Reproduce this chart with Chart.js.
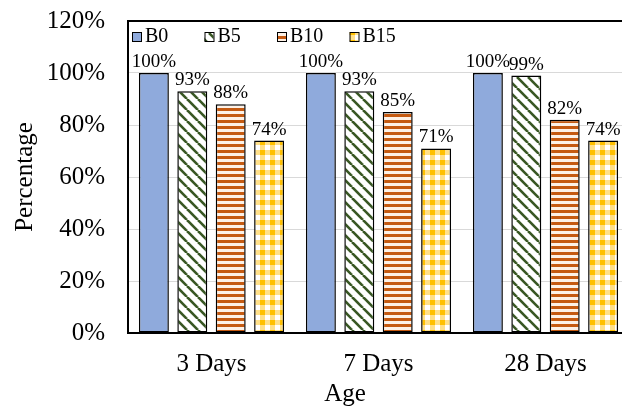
<!DOCTYPE html>
<html>
<head>
<meta charset="utf-8">
<script src="https://cdn.jsdelivr.net/npm/chart.js@4"></script>
<style>
  html, body { margin: 0; padding: 0; background: #fff; }
  #wrap { width: 622px; height: 407px; overflow: hidden; position: relative; }
  canvas { display: block; }
</style>
</head>
<body>
<div id="wrap"><canvas id="c" width="640" height="407"></canvas></div>
<script>
// Relative strength (%) by age for each mix
const categories = ['3 Days', '7 Days', '28 Days'];
const seriesNames = ['B0', 'B5', 'B10', 'B15'];
const B0 = [100, 100, 100];
const B5 = [93, 93, 99];
const B10 = [88, 85, 82];
const B15 = [74, 71, 74];
const yTicks = [0, 20, 40, 60, 80, 100, 120];
const xTitle = 'Age';

const SERIF = '"Liberation Serif", "Times New Roman", serif';

function makeTile(size, draw) {
  const c = document.createElement('canvas');
  c.width = size; c.height = size;
  const g = c.getContext('2d');
  draw(g, size);
  return document.createElement('canvas').getContext('2d').createPattern(c, 'repeat');
}

// diagonal green hatch
const hatchGreen = makeTile(11, (g, s) => {
  g.fillStyle = '#ffffff'; g.fillRect(0, 0, s, s);
  g.strokeStyle = '#385723'; g.lineWidth = 2.6;
  for (let x = -s; x <= s; x += s) {
    g.beginPath(); g.moveTo(x, 0); g.lineTo(x + s, s); g.stroke();
  }
});
// horizontal orange stripes
const stripeOrange = makeTile(6, (g, s) => {
  g.fillStyle = '#fdf1e6'; g.fillRect(0, 0, s, s);
  g.fillStyle = '#c55a11'; g.fillRect(0, 0, s, 3);
});
// yellow gingham
const checkYellow = makeTile(10, (g, s) => {
  g.fillStyle = '#ffffff'; g.fillRect(0, 0, s, s);
  g.fillStyle = '#ffe08a'; g.fillRect(0, 0, 5, s); g.fillRect(0, 0, s, 5);
  g.fillStyle = '#ffc000'; g.fillRect(0, 0, 5, 5);
});

const fills = ['#8faadc', hatchGreen, stripeOrange, checkYellow];
const values = [B0, B5, B10, B15];

const frame = {
  id: 'frame',
  afterDraw(chart) {
    const a = chart.chartArea, ctx = chart.ctx;
    ctx.save();
    ctx.strokeStyle = '#000'; ctx.lineWidth = 2;
    ctx.strokeRect(a.left, a.top, a.right - a.left, a.bottom - a.top);
    ctx.restore();
  }
};

const valueLabels = {
  id: 'valueLabels',
  afterDatasetsDraw(chart) {
    const ctx = chart.ctx;
    ctx.save();
    ctx.font = '19px ' + SERIF;
    ctx.fillStyle = '#000';
    ctx.textAlign = 'center';
    ctx.textBaseline = 'alphabetic';
    chart.data.datasets.forEach((ds, i) => {
      chart.getDatasetMeta(i).data.forEach((bar, j) => {
        ctx.fillText(ds.data[j] + '%', bar.x, bar.y - 6);
      });
    });
    ctx.restore();
  }
};

// legend row inside the top-left corner of the plot
const boxLegend = {
  id: 'boxLegend',
  afterDraw(chart) {
    const ctx = chart.ctx, a = chart.chartArea;
    ctx.save();
    ctx.font = '20px ' + SERIF;
    ctx.textBaseline = 'alphabetic';
    ctx.textAlign = 'left';
    chart.data.datasets.forEach((ds, i) => {
      const x = a.left + 4 + i * 72.5;
      const y = a.top + 11;
      ctx.fillStyle = ds.backgroundColor;
      ctx.fillRect(x, y, 9, 9);
      ctx.strokeStyle = '#000'; ctx.lineWidth = 1;
      ctx.strokeRect(x + 0.5, y + 0.5, 9, 9);
      ctx.fillStyle = '#000';
      ctx.fillText(ds.label, x + 13, y + 10);
    });
    ctx.restore();
  }
};

// category-axis title, set left of the plot's centre
const axisTitle = {
  id: 'axisTitle',
  afterDraw(chart) {
    const ctx = chart.ctx;
    ctx.save();
    ctx.font = '25px ' + SERIF;
    ctx.fillStyle = '#000';
    ctx.textAlign = 'center';
    ctx.textBaseline = 'alphabetic';
    ctx.fillText(xTitle, 345, 401);
    ctx.restore();
  }
};

function noEdgePadding(s) {
  s.paddingTop = 0; s.paddingBottom = 0;
}

new Chart(document.getElementById('c'), {
  type: 'bar',
  data: {
    labels: categories,
    datasets: seriesNames.map((name, i) => ({
      label: name,
      data: values[i],
      backgroundColor: fills[i],
      borderColor: '#000',
      borderWidth: 1.5,
      borderSkipped: false,
      categoryPercentage: 0.92,
      barPercentage: 0.78
    }))
  },
  options: {
    responsive: false,
    animation: false,
    devicePixelRatio: 1,
    layout: { padding: { top: 21, right: 11, left: 0, bottom: 0 } },
    plugins: { legend: { display: false }, tooltip: { enabled: false } },
    scales: {
      x: {
        grid: { display: false, drawTicks: false },
        border: { display: true, color: '#000', width: 2 },
        ticks: { color: '#000', font: { family: SERIF, size: 25 }, padding: 16 },
        afterFit(s) { s.height = 74; noEdgePadding(s); }
      },
      y: {
        min: yTicks[0],
        max: yTicks[yTicks.length - 1],
        afterBuildTicks(s) { s.ticks = yTicks.map(v => ({ value: v })); },
        grid: { color: '#d9d9d9', lineWidth: 1, drawTicks: false },
        border: { display: true, color: '#000', width: 2 },
        ticks: { color: '#000', font: { family: SERIF, size: 25 }, padding: 23, callback: v => v + '%' },
        title: { display: true, text: 'Percentage', color: '#000', font: { family: SERIF, size: 25 }, padding: { top: 10, bottom: 0 } },
        afterFit(s) { s.width = 128; noEdgePadding(s); }
      }
    }
  },
  plugins: [frame, valueLabels, boxLegend, axisTitle]
});
</script>
</body>
</html>
